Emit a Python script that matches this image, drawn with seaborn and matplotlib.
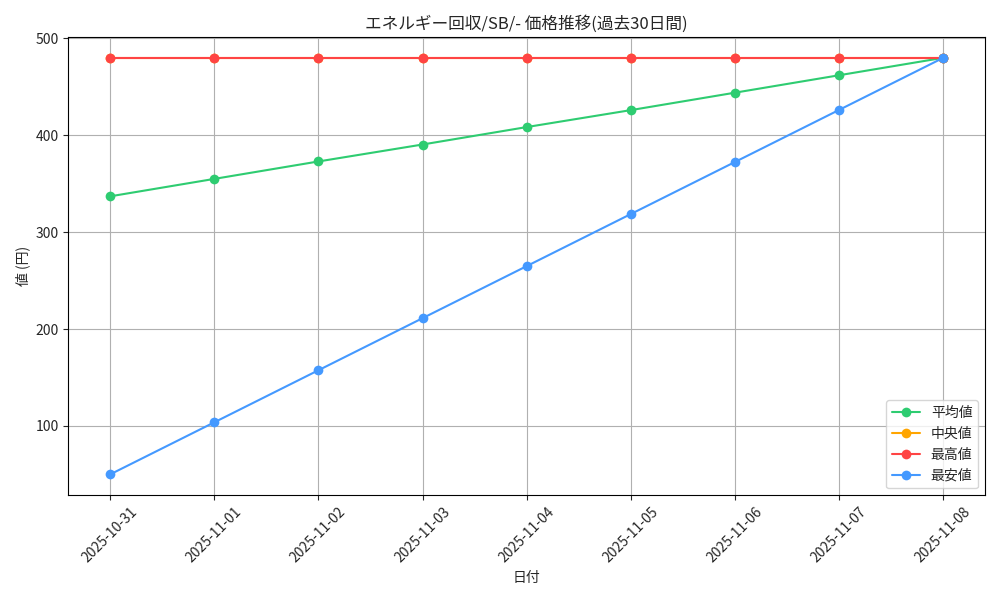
import matplotlib
matplotlib.use("Agg")
import matplotlib.pyplot as plt
import seaborn as sns
import pandas as pd

dates = ["2025-10-31", "2025-11-01", "2025-11-02", "2025-11-03", "2025-11-04",
         "2025-11-05", "2025-11-06", "2025-11-07", "2025-11-08"]
avg_vals = [337, 355, 373, 390.5, 408.5, 426, 444, 462, 480]
median_vals = [480, 480, 480, 480, 480, 480, 480, 480, 480]
max_vals = [480, 480, 480, 480, 480, 480, 480, 480, 480]
min_vals = [50, 103.75, 157.5, 211.25, 265, 318.75, 372.5, 426.25, 480]

series_names = ["平均値", "中央値", "最高値", "最安値"]
series_colors = ["#2ecc71", "#ffa500", "#ff4444", "#4499ff"]

sns.set_style("ticks")
plt.rcParams['font.family'] = ['Noto Sans CJK JP', 'DejaVu Sans']

df = pd.DataFrame({
    "date": dates * 4,
    "value": avg_vals + median_vals + max_vals + min_vals,
    "series": sum([[n] * len(dates) for n in series_names], []),
})

fig, ax = plt.subplots(figsize=(10, 6), dpi=100)
for name, color in zip(series_names, series_colors):
    sub = df[df["series"] == name]
    sns.lineplot(data=sub, x="date", y="value", color=color, marker="o",
                 markersize=7, markeredgewidth=0, linewidth=1.5, label=name,
                 ax=ax, sort=False)

ax.set_title("エネルギー回収/SB/- 価格推移(過去30日間)", fontsize=12)
ax.set_xlabel("日付")
ax.set_ylabel("値 (円)")
ax.grid(True, color="#b0b0b0", linewidth=0.8)
ax.tick_params(axis="x", rotation=45)
for s in ax.spines.values():
    s.set_visible(True)
    s.set_color("black")
ax.legend(loc="lower right")
fig.tight_layout()
fig.savefig("out.png", dpi=100)
